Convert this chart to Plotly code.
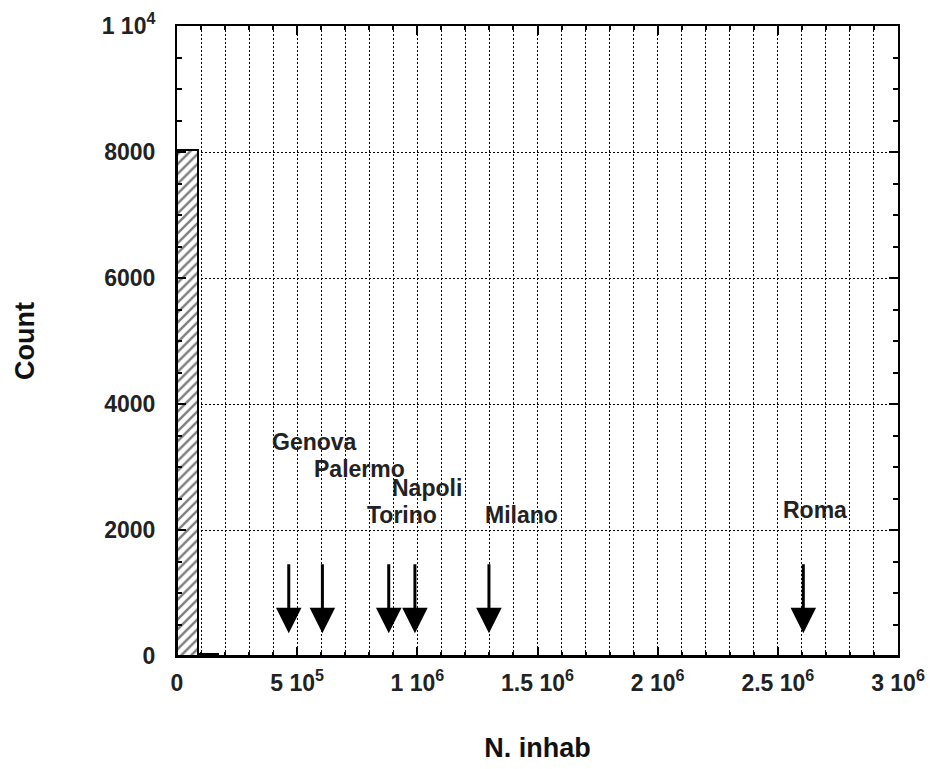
import plotly.graph_objects as go

# Histogram of municipality populations: 35 equal bins over 0 .. 3 million
n_bins = 35
x_max = 3.0e6
bin_counts = [8030, 38, 8, 4, 2, 1, 0, 1, 0, 0, 1, 1, 0, 0, 0, 1, 0, 0,
              0, 0, 0, 0, 0, 0, 0, 0, 0, 0, 0, 0, 1, 0, 0, 0, 0]

# Largest cities, marked with arrows
cities = ["Genova", "Palermo", "Torino", "Napoli", "Milano", "Roma"]
city_pop = [0.465e6, 0.605e6, 0.881e6, 0.99e6, 1.298e6, 2.606e6]
label_x = [0.573e6, 0.760e6, 0.936e6, 1.040e6, 1.435e6, 2.656e6]
label_y = [3400, 2970, 2240, 2670, 2240, 2320]

x_tickvals = [0, 5e5, 1e6, 1.5e6, 2e6, 2.5e6, 3e6]
x_ticktext = ["0", "5 10<sup>5</sup>", "1 10<sup>6</sup>", "1.5 10<sup>6</sup>",
              "2 10<sup>6</sup>", "2.5 10<sup>6</sup>", "3 10<sup>6</sup>"]
y_tickvals = [0, 2000, 4000, 6000, 8000, 10000]
y_ticktext = ["0", "2000", "4000", "6000", "8000", "1 10<sup>4</sup>"]

bin_w = x_max / n_bins
bin_left = [i * bin_w for i in range(n_bins)]

FONT = "Liberation Sans, Arial, sans-serif"
DOTS = "2px,2px"

fig = go.Figure()
fig.add_trace(go.Bar(
    x=bin_left, y=bin_counts, width=bin_w, offset=0,
    marker=dict(color="white",
                line=dict(color="black", width=2),
                pattern=dict(shape="/", fgcolor="black", bgcolor="white",
                             size=7, solidity=0.35)),
    showlegend=False,
))

arrow_top = 1480
arrow_tip = 360
for name, pop, lx, ly in zip(cities, city_pop, label_x, label_y):
    fig.add_annotation(x=pop, y=arrow_tip, ax=pop, ay=arrow_top,
                       xref="x", yref="y", axref="x", ayref="y",
                       showarrow=True, arrowhead=2, arrowsize=1.7,
                       arrowwidth=3, arrowcolor="black", text="")
    fig.add_annotation(x=lx, y=ly, xref="x", yref="y", text=name,
                       showarrow=False,
                       font=dict(family=FONT, size=23, color="#222",
                                 weight="bold"))

axis_common = dict(
    showline=True, linecolor="black", linewidth=2, mirror="allticks",
    ticks="inside", tickcolor="black", tickwidth=1.5,
    showgrid=True, gridcolor="black", gridwidth=1.2, griddash=DOTS,
    zeroline=False, automargin=False,
    tickfont=dict(family=FONT, size=23, color="#222", weight="bold"),
)

fig.update_xaxes(
    range=[0, x_max], tickvals=x_tickvals, ticktext=x_ticktext,
    ticklen=9, ticklabelstandoff=5,
    minor=dict(dtick=1e5, tick0=0, ticks="inside", ticklen=4,
               tickcolor="black", showgrid=True, gridcolor="black",
               gridwidth=1.2, griddash=DOTS),
    title=dict(text="N. inhab", standoff=44,
               font=dict(family=FONT, size=27, color="#111", weight="bold")),
    **axis_common,
)
fig.update_yaxes(
    range=[0, 10000], tickvals=y_tickvals, ticktext=y_ticktext,
    ticklen=9, ticklabelstandoff=15,
    minor=dict(dtick=500, tick0=0, ticks="inside", ticklen=5,
               tickcolor="black", showgrid=False),
    title=dict(text="Count", standoff=59,
               font=dict(family=FONT, size=27, color="#111", weight="bold")),
    **axis_common,
)

fig.update_layout(
    width=930, height=769,
    margin=dict(l=177, r=32, t=26, b=113),
    plot_bgcolor="white", paper_bgcolor="white",
    bargap=0,
)

fig.write_html("out.html")
